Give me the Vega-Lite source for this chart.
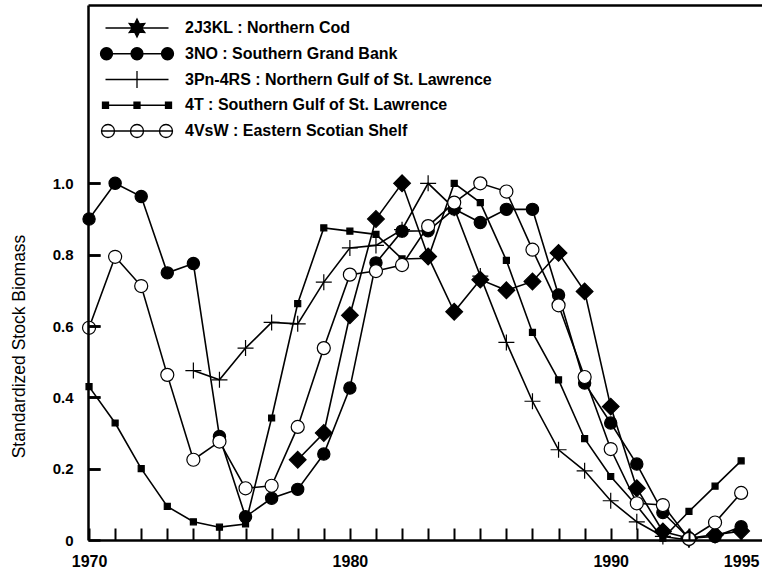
{
  "$schema": "https://vega.github.io/schema/vega-lite/v6.json",
  "width": 674,
  "height": 535,
  "autosize": {"type": "none"},
  "padding": {"left": 88, "top": 5, "right": 0, "bottom": 31},
  "background": "white",
  "config": {
    "font": "Liberation Sans",
    "view": {"stroke": null},
    "axis": {"grid": false, "domainColor": "black", "tickColor": "black", "labelColor": "black", "titleColor": "black"}
  },
  "data": {
    "values": [
      {"series": "2J3KL : Northern Cod", "year": 1978, "value": 0.225},
      {"series": "2J3KL : Northern Cod", "year": 1979, "value": 0.3},
      {"series": "2J3KL : Northern Cod", "year": 1980, "value": 0.63},
      {"series": "2J3KL : Northern Cod", "year": 1981, "value": 0.9},
      {"series": "2J3KL : Northern Cod", "year": 1982, "value": 1.0},
      {"series": "2J3KL : Northern Cod", "year": 1983, "value": 0.795},
      {"series": "2J3KL : Northern Cod", "year": 1984, "value": 0.64},
      {"series": "2J3KL : Northern Cod", "year": 1985, "value": 0.73},
      {"series": "2J3KL : Northern Cod", "year": 1986, "value": 0.7},
      {"series": "2J3KL : Northern Cod", "year": 1987, "value": 0.725},
      {"series": "2J3KL : Northern Cod", "year": 1988, "value": 0.805},
      {"series": "2J3KL : Northern Cod", "year": 1989, "value": 0.697},
      {"series": "2J3KL : Northern Cod", "year": 1990, "value": 0.374},
      {"series": "2J3KL : Northern Cod", "year": 1991, "value": 0.145},
      {"series": "2J3KL : Northern Cod", "year": 1992, "value": 0.024},
      {"series": "2J3KL : Northern Cod", "year": 1993, "value": 0.005},
      {"series": "2J3KL : Northern Cod", "year": 1994, "value": 0.015},
      {"series": "2J3KL : Northern Cod", "year": 1995, "value": 0.025},

      {"series": "3NO : Southern Grand Bank", "year": 1970, "value": 0.9},
      {"series": "3NO : Southern Grand Bank", "year": 1971, "value": 1.0},
      {"series": "3NO : Southern Grand Bank", "year": 1972, "value": 0.963},
      {"series": "3NO : Southern Grand Bank", "year": 1973, "value": 0.749},
      {"series": "3NO : Southern Grand Bank", "year": 1974, "value": 0.775},
      {"series": "3NO : Southern Grand Bank", "year": 1975, "value": 0.29},
      {"series": "3NO : Southern Grand Bank", "year": 1976, "value": 0.065},
      {"series": "3NO : Southern Grand Bank", "year": 1977, "value": 0.117},
      {"series": "3NO : Southern Grand Bank", "year": 1978, "value": 0.142},
      {"series": "3NO : Southern Grand Bank", "year": 1979, "value": 0.241},
      {"series": "3NO : Southern Grand Bank", "year": 1980, "value": 0.426},
      {"series": "3NO : Southern Grand Bank", "year": 1981, "value": 0.777},
      {"series": "3NO : Southern Grand Bank", "year": 1982, "value": 0.866},
      {"series": "3NO : Southern Grand Bank", "year": 1983, "value": 0.867},
      {"series": "3NO : Southern Grand Bank", "year": 1984, "value": 0.928},
      {"series": "3NO : Southern Grand Bank", "year": 1985, "value": 0.89},
      {"series": "3NO : Southern Grand Bank", "year": 1986, "value": 0.927},
      {"series": "3NO : Southern Grand Bank", "year": 1987, "value": 0.927},
      {"series": "3NO : Southern Grand Bank", "year": 1988, "value": 0.687},
      {"series": "3NO : Southern Grand Bank", "year": 1989, "value": 0.44},
      {"series": "3NO : Southern Grand Bank", "year": 1990, "value": 0.328},
      {"series": "3NO : Southern Grand Bank", "year": 1991, "value": 0.213},
      {"series": "3NO : Southern Grand Bank", "year": 1992, "value": 0.077},
      {"series": "3NO : Southern Grand Bank", "year": 1993, "value": 0.005},
      {"series": "3NO : Southern Grand Bank", "year": 1994, "value": 0.01},
      {"series": "3NO : Southern Grand Bank", "year": 1995, "value": 0.037},

      {"series": "3Pn-4RS : Northern Gulf of St. Lawrence", "year": 1974, "value": 0.475},
      {"series": "3Pn-4RS : Northern Gulf of St. Lawrence", "year": 1975, "value": 0.449},
      {"series": "3Pn-4RS : Northern Gulf of St. Lawrence", "year": 1976, "value": 0.538},
      {"series": "3Pn-4RS : Northern Gulf of St. Lawrence", "year": 1977, "value": 0.61},
      {"series": "3Pn-4RS : Northern Gulf of St. Lawrence", "year": 1978, "value": 0.606},
      {"series": "3Pn-4RS : Northern Gulf of St. Lawrence", "year": 1979, "value": 0.723},
      {"series": "3Pn-4RS : Northern Gulf of St. Lawrence", "year": 1980, "value": 0.819},
      {"series": "3Pn-4RS : Northern Gulf of St. Lawrence", "year": 1981, "value": 0.826},
      {"series": "3Pn-4RS : Northern Gulf of St. Lawrence", "year": 1982, "value": 0.87},
      {"series": "3Pn-4RS : Northern Gulf of St. Lawrence", "year": 1983, "value": 1.0},
      {"series": "3Pn-4RS : Northern Gulf of St. Lawrence", "year": 1984, "value": 0.93},
      {"series": "3Pn-4RS : Northern Gulf of St. Lawrence", "year": 1985, "value": 0.74},
      {"series": "3Pn-4RS : Northern Gulf of St. Lawrence", "year": 1986, "value": 0.554},
      {"series": "3Pn-4RS : Northern Gulf of St. Lawrence", "year": 1987, "value": 0.389},
      {"series": "3Pn-4RS : Northern Gulf of St. Lawrence", "year": 1988, "value": 0.253},
      {"series": "3Pn-4RS : Northern Gulf of St. Lawrence", "year": 1989, "value": 0.194},
      {"series": "3Pn-4RS : Northern Gulf of St. Lawrence", "year": 1990, "value": 0.11},
      {"series": "3Pn-4RS : Northern Gulf of St. Lawrence", "year": 1991, "value": 0.051},
      {"series": "3Pn-4RS : Northern Gulf of St. Lawrence", "year": 1992, "value": 0.01},
      {"series": "3Pn-4RS : Northern Gulf of St. Lawrence", "year": 1993, "value": 0.0},

      {"series": "4T : Southern Gulf of St. Lawrence", "year": 1970, "value": 0.43},
      {"series": "4T : Southern Gulf of St. Lawrence", "year": 1971, "value": 0.328},
      {"series": "4T : Southern Gulf of St. Lawrence", "year": 1972, "value": 0.2},
      {"series": "4T : Southern Gulf of St. Lawrence", "year": 1973, "value": 0.094},
      {"series": "4T : Southern Gulf of St. Lawrence", "year": 1974, "value": 0.051},
      {"series": "4T : Southern Gulf of St. Lawrence", "year": 1975, "value": 0.036},
      {"series": "4T : Southern Gulf of St. Lawrence", "year": 1976, "value": 0.045},
      {"series": "4T : Southern Gulf of St. Lawrence", "year": 1977, "value": 0.342},
      {"series": "4T : Southern Gulf of St. Lawrence", "year": 1978, "value": 0.663},
      {"series": "4T : Southern Gulf of St. Lawrence", "year": 1979, "value": 0.875},
      {"series": "4T : Southern Gulf of St. Lawrence", "year": 1980, "value": 0.866},
      {"series": "4T : Southern Gulf of St. Lawrence", "year": 1981, "value": 0.857},
      {"series": "4T : Southern Gulf of St. Lawrence", "year": 1982, "value": 0.788},
      {"series": "4T : Southern Gulf of St. Lawrence", "year": 1983, "value": 0.79},
      {"series": "4T : Southern Gulf of St. Lawrence", "year": 1984, "value": 1.0},
      {"series": "4T : Southern Gulf of St. Lawrence", "year": 1985, "value": 0.946},
      {"series": "4T : Southern Gulf of St. Lawrence", "year": 1986, "value": 0.784},
      {"series": "4T : Southern Gulf of St. Lawrence", "year": 1987, "value": 0.582},
      {"series": "4T : Southern Gulf of St. Lawrence", "year": 1988, "value": 0.449},
      {"series": "4T : Southern Gulf of St. Lawrence", "year": 1989, "value": 0.284},
      {"series": "4T : Southern Gulf of St. Lawrence", "year": 1990, "value": 0.178},
      {"series": "4T : Southern Gulf of St. Lawrence", "year": 1991, "value": 0.096},
      {"series": "4T : Southern Gulf of St. Lawrence", "year": 1992, "value": 0.005},
      {"series": "4T : Southern Gulf of St. Lawrence", "year": 1993, "value": 0.08},
      {"series": "4T : Southern Gulf of St. Lawrence", "year": 1994, "value": 0.151},
      {"series": "4T : Southern Gulf of St. Lawrence", "year": 1995, "value": 0.222},

      {"series": "4VsW : Eastern Scotian Shelf", "year": 1970, "value": 0.595},
      {"series": "4VsW : Eastern Scotian Shelf", "year": 1971, "value": 0.794},
      {"series": "4VsW : Eastern Scotian Shelf", "year": 1972, "value": 0.712},
      {"series": "4VsW : Eastern Scotian Shelf", "year": 1973, "value": 0.463},
      {"series": "4VsW : Eastern Scotian Shelf", "year": 1974, "value": 0.225},
      {"series": "4VsW : Eastern Scotian Shelf", "year": 1975, "value": 0.276},
      {"series": "4VsW : Eastern Scotian Shelf", "year": 1976, "value": 0.145},
      {"series": "4VsW : Eastern Scotian Shelf", "year": 1977, "value": 0.152},
      {"series": "4VsW : Eastern Scotian Shelf", "year": 1978, "value": 0.317},
      {"series": "4VsW : Eastern Scotian Shelf", "year": 1979, "value": 0.538},
      {"series": "4VsW : Eastern Scotian Shelf", "year": 1980, "value": 0.744},
      {"series": "4VsW : Eastern Scotian Shelf", "year": 1981, "value": 0.754},
      {"series": "4VsW : Eastern Scotian Shelf", "year": 1982, "value": 0.771},
      {"series": "4VsW : Eastern Scotian Shelf", "year": 1983, "value": 0.88},
      {"series": "4VsW : Eastern Scotian Shelf", "year": 1984, "value": 0.946},
      {"series": "4VsW : Eastern Scotian Shelf", "year": 1985, "value": 1.0},
      {"series": "4VsW : Eastern Scotian Shelf", "year": 1986, "value": 0.977},
      {"series": "4VsW : Eastern Scotian Shelf", "year": 1987, "value": 0.814},
      {"series": "4VsW : Eastern Scotian Shelf", "year": 1988, "value": 0.658},
      {"series": "4VsW : Eastern Scotian Shelf", "year": 1989, "value": 0.457},
      {"series": "4VsW : Eastern Scotian Shelf", "year": 1990, "value": 0.255},
      {"series": "4VsW : Eastern Scotian Shelf", "year": 1991, "value": 0.103},
      {"series": "4VsW : Eastern Scotian Shelf", "year": 1992, "value": 0.098},
      {"series": "4VsW : Eastern Scotian Shelf", "year": 1993, "value": 0.003},
      {"series": "4VsW : Eastern Scotian Shelf", "year": 1994, "value": 0.049},
      {"series": "4VsW : Eastern Scotian Shelf", "year": 1995, "value": 0.132}
    ]
  },
  "layer": [
    {
      "mark": {"type": "line", "stroke": "black", "strokeWidth": 1.6},
      "encoding": {
        "x": {
          "field": "year", "type": "quantitative",
          "scale": {"domain": [1969.96, 1995.8], "nice": false, "zero": false},
          "axis": {
            "orient": "bottom", "title": null, "format": "d", "zindex": 1,
            "values": [1970,1971,1972,1973,1974,1975,1976,1977,1978,1979,1980,1981,1982,1983,1984,1985,1986,1987,1988,1989,1990,1991,1992,1993,1994,1995],
            "labelExpr": "(datum.value % 10 === 0 || datum.value === 1995) ? datum.label : ''",
            "labelFlush": false, "labelOverlap": false,
            "labelFontSize": 16, "labelFontWeight": "bold", "labelPadding": 25,
            "ticks": true, "tickSize": -12, "tickWidth": 2, "tickOpacity": 1, "domainWidth": 2.5
          }
        },
        "y": {
          "field": "value", "type": "quantitative",
          "scale": {"domain": [0, 1.5], "nice": false},
          "axis": {
            "orient": "left", "title": "Standardized Stock Biomass", "zindex": 1,
            "values": [0, 0.2, 0.4, 0.6, 0.8, 1.0],
            "labelExpr": "datum.value === 0 ? '0' : format(datum.value, '.1f')",
            "labelFontSize": 15, "labelFontWeight": "bold", "labelPadding": 27,
            "titleFontSize": 17.5, "titleFontWeight": "normal", "titlePadding": 24, "titleY": 341,
            "ticks": true, "tickSize": -12, "tickWidth": 2.5, "tickOpacity": 1, "tickColor": "black", "domainWidth": 2.5
          }
        },
        "detail": {"field": "series", "type": "nominal"},
        "order": {"field": "year", "type": "quantitative"}
      }
    },
    {
      "mark": {"type": "point", "stroke": "black", "strokeWidth": 1.2},
      "encoding": {
        "x": {
          "field": "year", "type": "quantitative",
          "axis": {"orient": "top", "title": null, "labels": false, "ticks": false, "domainWidth": 2.5}
        },
        "y": {
          "field": "value", "type": "quantitative",
          "axis": {
            "orient": "right", "offset": -674, "title": null, "zindex": 1,
            "domain": false, "labels": false, "grid": false,
            "values": [0.2, 0.4, 0.6, 0.8, 1.0],
            "ticks": true, "tickSize": 12, "tickWidth": 2.5, "tickOpacity": 1, "tickColor": "black"
          }
        },
        "shape": {
          "field": "series", "type": "nominal",
          "scale": {"range": ["diamond", "circle", "M-1,0L1,0M0,-1L0,1", "square", "circle"]},
          "legend": null
        },
        "fill": {
          "field": "series", "type": "nominal",
          "scale": {"range": ["black", "black", "transparent", "black", "white"]},
          "legend": null
        },
        "size": {
          "field": "series", "type": "nominal",
          "scale": {"type": "ordinal", "range": [280, 150, 256, 36, 170]},
          "legend": null
        },
        "opacity": {
          "field": "series", "type": "nominal",
          "scale": {
            "type": "ordinal",
            "domain": ["2J3KL : Northern Cod", "3NO : Southern Grand Bank", "3Pn-4RS : Northern Gulf of St. Lawrence", "4T : Southern Gulf of St. Lawrence", "4VsW : Eastern Scotian Shelf"],
            "range": [1, 1, 1, 1, 1]
          },
          "legend": {
            "title": null, "orient": "none", "legendX": 14, "legendY": 15,
            "labelFontSize": 16, "labelFontWeight": "bold", "labelColor": "black", "labelLimit": 600,
            "labelOffset": 40, "symbolOffset": 27, "rowPadding": 1.75, "gridAlign": "all",
            "symbolSize": 100, "symbolOpacity": 1, "symbolStrokeColor": "black", "symbolStrokeWidth": 1.3,
            "symbolType": {"expr": "datum.value === '2J3KL : Northern Cod' ? 'M-6.3,0L6.3,0M0,-1.8L0.47,-0.82L1.56,-0.9L0.95,0L1.56,0.9L0.47,0.82L0,1.8L-0.47,0.82L-1.56,0.9L-0.95,0L-1.56,-0.9L-0.47,-0.82Z' : datum.value === '3NO : Southern Grand Bank' ? 'M-6.3,0L6.3,0M-7.3,0A1.2,1.2,0,1,0,-4.9,0A1.2,1.2,0,1,0,-7.3,0ZM-1.2,0A1.2,1.2,0,1,0,1.2,0A1.2,1.2,0,1,0,-1.2,0ZM4.9,0A1.2,1.2,0,1,0,7.3,0A1.2,1.2,0,1,0,4.9,0Z' : datum.value === '3Pn-4RS : Northern Gulf of St. Lawrence' ? 'M-6.3,0L6.3,0M0,-1.7L0,1.7' : datum.value === '4T : Southern Gulf of St. Lawrence' ? 'M-6.3,0L6.3,0M-6.9,-0.6L-5.7,-0.6L-5.7,0.6L-6.9,0.6ZM-0.6,-0.6L0.6,-0.6L0.6,0.6L-0.6,0.6ZM5.7,-0.6L6.9,-0.6L6.9,0.6L5.7,0.6Z' : 'M-7.1,0L7.1,0M-7.1,0A1.3,1.3,0,1,0,-4.5,0A1.3,1.3,0,1,0,-7.1,0ZM-1.3,0A1.3,1.3,0,1,0,1.3,0A1.3,1.3,0,1,0,-1.3,0ZM4.5,0A1.3,1.3,0,1,0,7.1,0A1.3,1.3,0,1,0,4.5,0Z'"},
            "symbolFillColor": {"expr": "datum.value === '3Pn-4RS : Northern Gulf of St. Lawrence' ? 'transparent' : datum.value === '4VsW : Eastern Scotian Shelf' ? 'white' : 'black'"}
          }
        }
      }
    }
  ]
}
